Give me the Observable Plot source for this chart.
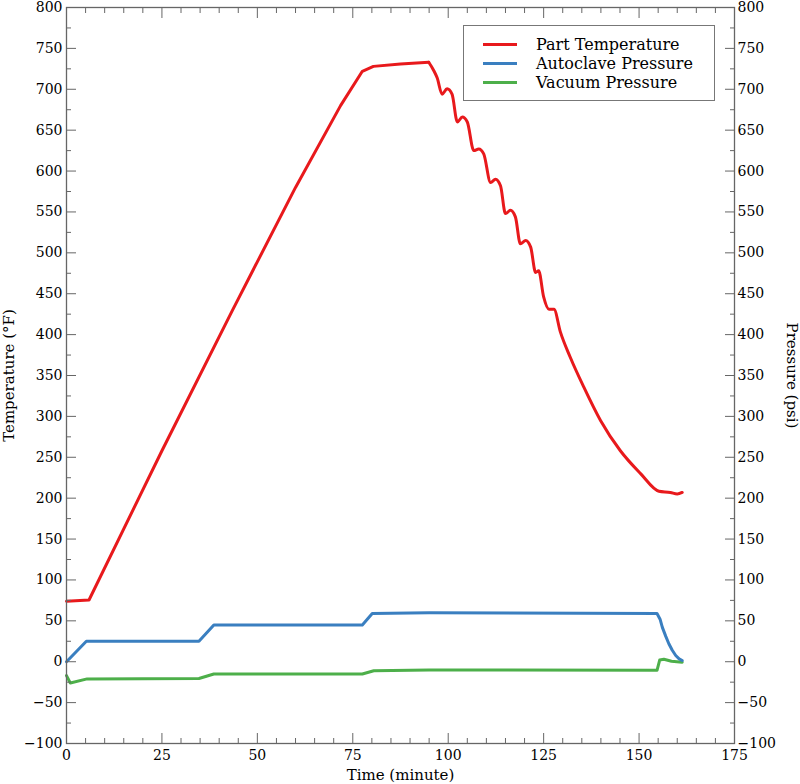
<!DOCTYPE html>
<html>
<head>
<meta charset="utf-8">
<script src="https://cdn.jsdelivr.net/npm/d3@7"></script>
<script src="https://cdn.jsdelivr.net/npm/@observablehq/plot@0.6"></script>
<style>
  html, body { margin: 0; padding: 0; background: #fff; }
  #wrap { position: relative; width: 800px; height: 784px; font-family: "DejaVu Serif", serif; }
  #legend { position: absolute; left: 463px; top: 25px; width: 250px; height: 74px; border: 1px solid #777; background: #fff; box-sizing: content-box; }
  #legend .row { position: absolute; left: 0; height: 19px; display: flex; align-items: center; font-size: 16px; color: #000; white-space: nowrap; }
  #legend .sw { display: inline-block; width: 34px; height: 3px; margin-left: 19px; margin-right: 19px; }
</style>
</head>
<body>
<div id="wrap"><div id="legend"></div></div>
<script>
// ---- data ----
const tempTime = [0, 5.9, 25, 43.5, 60, 71.8, 77.5, 80.4, 87.5, 94.9, 96.2, 97.1, 98.4, 99.7, 101, 102.4, 103.7, 105, 106.7, 108, 109.3, 111.1, 112.4, 113.7, 115, 116.3, 117.6, 118.9, 120.3, 121.6, 122.9, 123.7, 125, 126.4, 127.7, 129.4, 132, 135.5, 139.9, 145.1, 150.4, 155.2, 158.2, 160, 161.3];
const tempValue = [74, 75.5, 258, 430, 580, 680, 722, 728, 731, 733, 723, 714, 694, 700.5, 694, 660, 666, 660, 625, 627, 621, 586, 590, 582, 548, 552, 544, 511, 515, 507, 476, 478, 446, 431, 431, 403, 372, 336, 295, 258, 230, 208.5, 207, 205, 207];

const autoTime = [0, 5.2, 34.7, 38.6, 77.5, 80.1, 95, 154.7, 155.5, 156.1, 157, 157.8, 158.7, 159.6, 160.5, 161.3];
const autoValue = [0, 25, 25, 45, 45, 59, 60, 59, 52, 42, 31, 22, 14, 7.6, 3.5, 1.5];

const vacTime = [0, 1, 5.4, 34.7, 38.6, 77.5, 80.5, 95, 154.7, 155.4, 156.5, 158.5, 161.3];
const vacValue = [-17, -26, -21, -20.5, -15, -15, -11, -10, -10.5, 2, 3, 0.5, -0.5];

const seriesNames = ["Part Temperature", "Autoclave Pressure", "Vacuum Pressure"];
const seriesColors = ["#e8191c", "#3a7fc0", "#4daf4a"];

const xTicks = [0, 25, 50, 75, 100, 125, 150, 175];
const xMinorTicks = [5, 10, 15, 20, 30, 35, 40, 45, 55, 60, 65, 70, 80, 85, 90, 95, 105, 110, 115, 120, 130, 135, 140, 145, 155, 160, 165, 170];
const yTicks = [-100, -50, 0, 50, 100, 150, 200, 250, 300, 350, 400, 450, 500, 550, 600, 650, 700, 750, 800];
const yMinorTicks = [-75, -25, 25, 75, 125, 175, 225, 275, 325, 375, 425, 475, 525, 575, 625, 675, 725, 775];

const xTitle = ["Time (minute)"];
const yTitleLeft = ["Temperature (°F)"];
const yTitleRight = ["Pressure (psi)"];

// ---- build tables ----
const toRows = (ts, vs) => ts.map((t, i) => ({t, v: vs[i]}));
const temp = toRows(tempTime, tempValue);
const tempRise = temp.filter(d => d.t <= 94.9);
const tempFall = temp.filter(d => d.t >= 94.9);
const auto = toRows(autoTime, autoValue);
const vac = toRows(vacTime, vacValue);

const axisGray = "#666";

const chart = Plot.plot({
  width: 800,
  height: 784,
  marginLeft: 66,
  marginRight: 66,
  marginTop: 7,
  marginBottom: 41,
  style: {fontFamily: "DejaVu Serif, serif", fontSize: "14px", color: "#000", background: "white"},
  x: {domain: [0, 175]},
  y: {domain: [-100, 800]},
  marks: [
    Plot.line(vac, {x: "t", y: "v", stroke: seriesColors[2], strokeWidth: 3}),
    Plot.line(auto, {x: "t", y: "v", stroke: seriesColors[1], strokeWidth: 3}),
    Plot.line(tempRise, {x: "t", y: "v", stroke: seriesColors[0], strokeWidth: 3}),
    Plot.line(tempFall, {x: "t", y: "v", stroke: seriesColors[0], strokeWidth: 3, curve: "monotone-x"}),
    Plot.frame({stroke: axisGray, strokeWidth: 1.3}),
    // inward ticks
    Plot.axisX(xTicks, {anchor: "bottom", tickSize: -10, fill: "none", stroke: axisGray, label: null}),
    Plot.axisX(xMinorTicks, {anchor: "bottom", tickSize: -5, fill: "none", stroke: axisGray, label: null}),
    Plot.axisX(xTicks, {anchor: "top", tickSize: -10, fill: "none", stroke: axisGray, label: null}),
    Plot.axisX(xMinorTicks, {anchor: "top", tickSize: -5, fill: "none", stroke: axisGray, label: null}),
    Plot.axisY(yTicks, {anchor: "left", tickSize: -10, fill: "none", stroke: axisGray, label: null}),
    Plot.axisY(yMinorTicks, {anchor: "left", tickSize: -5, fill: "none", stroke: axisGray, label: null}),
    Plot.axisY(yTicks, {anchor: "right", tickSize: -10, fill: "none", stroke: axisGray, label: null}),
    Plot.axisY(yMinorTicks, {anchor: "right", tickSize: -5, fill: "none", stroke: axisGray, label: null}),
    // tick labels
    Plot.axisX(xTicks, {anchor: "bottom", tickSize: 0, tickPadding: 7, label: null, fill: "#000"}),
    Plot.axisY(yTicks, {anchor: "left", tickSize: 0, tickPadding: 4, label: null, fill: "#000"}),
    Plot.axisY(yTicks, {anchor: "right", tickSize: 0, tickPadding: 3, label: null, fill: "#000"}),
    // axis titles
    Plot.text(xTitle, {frameAnchor: "bottom", dy: 32, lineAnchor: "middle", textAnchor: "middle", text: d => d, fontSize: 15, fill: "#000"}),
    Plot.text(yTitleLeft, {frameAnchor: "left", dx: -57, rotate: -90, textAnchor: "middle", lineAnchor: "middle", text: d => d, fontSize: 15, fill: "#000"}),
    Plot.text(yTitleRight, {frameAnchor: "right", dx: 57, rotate: 90, textAnchor: "middle", lineAnchor: "middle", text: d => d, fontSize: 15, fill: "#000"})
  ]
});

const wrap = document.getElementById("wrap");
wrap.insertBefore(chart, wrap.firstChild);

// legend
const legend = document.getElementById("legend");
seriesNames.forEach((name, i) => {
  const row = document.createElement("div");
  row.className = "row";
  row.style.top = (9 + i * 19) + "px";
  const sw = document.createElement("span");
  sw.className = "sw";
  sw.style.background = seriesColors[i];
  const lab = document.createElement("span");
  lab.textContent = name;
  row.appendChild(sw);
  row.appendChild(lab);
  legend.appendChild(row);
});
</script>
</body>
</html>
